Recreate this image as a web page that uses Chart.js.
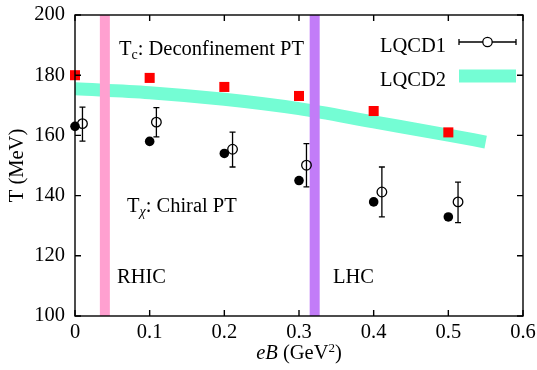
<!DOCTYPE html>
<html>
<head>
<meta charset="utf-8">
<script src="https://cdn.jsdelivr.net/npm/chart.js@4"></script>
<style>
  html, body { margin: 0; padding: 0; background: #fff; }
  #wrap { width: 537px; height: 370px; }
</style>
</head>
<body>
<div id="wrap"><canvas id="chart" width="537" height="370"></canvas></div>
<script>
// data
const eB = [0, 0.1, 0.2, 0.3, 0.4, 0.5];
const tcDeconf = [180, 179.1, 176.1, 173.1, 168.1, 161.0];   // red squares
const tChiral = [163.0, 158.0, 154.0, 145.0, 137.9, 132.9];  // filled circles

const lqcd1X = [0.010, 0.109, 0.211, 0.310, 0.411, 0.513];
const lqcd1T = [163.9, 164.4, 155.4, 150.1, 141.2, 137.9];
const lqcd1Lo = [158.1, 159.5, 149.5, 142.9, 132.9, 131.0];
const lqcd1Hi = [169.4, 169.2, 161.1, 157.3, 149.5, 144.5];

const lqcd2X = [0, 0.1, 0.2, 0.3, 0.4, 0.5, 0.55];
const lqcd2T = [175.5, 174.2, 172.0, 168.9, 164.5, 160.1, 157.8];

const rhicEB = 0.04;
const lhcEB = 0.321;

const xTicks = [0, 0.1, 0.2, 0.3, 0.4, 0.5, 0.6];
const yTicks = [100, 120, 140, 160, 180, 200];

const FONT = '"Liberation Serif", "Times New Roman", Times, serif';
const FS = 20.5;
const band = '#74fdd4';

function pts(xs, ys) { return xs.map((x, i) => ({ x: x, y: ys[i] })); }
function f(size, style) { return (style ? style + ' ' : '') + size + 'px ' + FONT; }

// error bars, inward ticks, labels and legend
const decor = {
  id: 'decor',
  beforeDatasetsDraw(chart) {
    const { ctx, scales: { x, y } } = chart;
    ctx.save();
    ctx.strokeStyle = '#000';
    ctx.lineWidth = 1.3;
    lqcd1X.forEach((v, i) => {
      const px = x.getPixelForValue(v);
      const lo = y.getPixelForValue(lqcd1Lo[i]);
      const hi = y.getPixelForValue(lqcd1Hi[i]);
      ctx.beginPath();
      ctx.moveTo(px, lo); ctx.lineTo(px, hi);
      ctx.moveTo(px - 3, lo); ctx.lineTo(px + 3, lo);
      ctx.moveTo(px - 3, hi); ctx.lineTo(px + 3, hi);
      ctx.stroke();
    });
    ctx.restore();
  },
  afterDraw(chart) {
    const { ctx, chartArea: a, scales: { x, y } } = chart;
    ctx.save();
    ctx.strokeStyle = '#000';
    ctx.lineWidth = 1.4;
    ctx.strokeRect(a.left, a.top, a.right - a.left, a.bottom - a.top);
    ctx.beginPath();
    xTicks.forEach(v => {
      const px = x.getPixelForValue(v);
      ctx.moveTo(px, a.bottom); ctx.lineTo(px, a.bottom - 6);
      ctx.moveTo(px, a.top); ctx.lineTo(px, a.top + 6);
    });
    yTicks.forEach(v => {
      const py = y.getPixelForValue(v);
      ctx.moveTo(a.left, py); ctx.lineTo(a.left + 6, py);
      ctx.moveTo(a.right, py); ctx.lineTo(a.right - 6, py);
    });
    ctx.stroke();

    ctx.fillStyle = '#000';
    ctx.textBaseline = 'alphabetic';
    ctx.textAlign = 'left';

    // T_c label
    ctx.font = f(FS);
    ctx.fillText('T', 119, 55);
    let w = ctx.measureText('T').width;
    ctx.font = f(14);
    ctx.fillText('c', 119 + w, 59);
    let w2 = ctx.measureText('c').width;
    ctx.font = f(FS);
    ctx.fillText(': Deconfinement PT', 119 + w + w2, 55);

    // T_chi label
    ctx.fillText('T', 127, 212);
    w = ctx.measureText('T').width;
    ctx.font = f(14, 'italic');
    ctx.fillText('χ', 127 + w, 216);
    w2 = ctx.measureText('χ').width;
    ctx.font = f(FS);
    ctx.fillText(': Chiral PT', 127 + w + w2, 212);

    ctx.fillText('RHIC', 117, 283);
    ctx.fillText('LHC', 333, 283);

    // legend
    ctx.textAlign = 'right';
    ctx.fillText('LQCD1', 446, 52);
    ctx.fillText('LQCD2', 446, 86);
    ctx.beginPath();
    ctx.lineWidth = 1.3;
    ctx.moveTo(459, 42); ctx.lineTo(516, 42);
    ctx.moveTo(459, 39); ctx.lineTo(459, 45);
    ctx.moveTo(516, 39); ctx.lineTo(516, 45);
    ctx.stroke();
    ctx.beginPath();
    ctx.fillStyle = '#fff';
    ctx.arc(487.5, 42, 4.7, 0, Math.PI * 2);
    ctx.fill();
    ctx.stroke();
    ctx.fillStyle = band;
    ctx.fillRect(459, 69.5, 57, 13);

    // axis titles
    ctx.fillStyle = '#000';
    ctx.save();
    ctx.translate(23, (a.top + a.bottom) / 2);
    ctx.rotate(-Math.PI / 2);
    ctx.textAlign = 'center';
    ctx.font = f(FS);
    ctx.fillText('T (MeV)', 0, 0);
    ctx.restore();

    const cx = (a.left + a.right) / 2;
    ctx.textAlign = 'left';
    ctx.font = f(FS, 'italic');
    const wa = ctx.measureText('eB').width;
    ctx.font = f(FS);
    const wb = ctx.measureText(' (GeV').width;
    ctx.font = f(13);
    const wc = ctx.measureText('2').width;
    ctx.font = f(FS);
    const wd = ctx.measureText(')').width;
    let sx = cx - (wa + wb + wc + wd) / 2;
    const by = 359;
    ctx.font = f(FS, 'italic');
    ctx.fillText('eB', sx, by); sx += wa;
    ctx.font = f(FS);
    ctx.fillText(' (GeV', sx, by); sx += wb;
    ctx.font = f(13);
    ctx.fillText('2', sx, by - 7); sx += wc;
    ctx.font = f(FS);
    ctx.fillText(')', sx, by);
    ctx.restore();
  }
};

new Chart(document.getElementById('chart'), {
  type: 'scatter',
  data: {
    datasets: [
      {
        label: 'Tc',
        data: pts(eB, tcDeconf),
        pointStyle: 'rect',
        pointRadius: 7.1,
        backgroundColor: '#ff0000',
        borderWidth: 0,
        clip: false,
        order: 0
      },
      {
        label: 'Tchi',
        data: pts(eB, tChiral),
        pointRadius: 4.8,
        backgroundColor: '#000',
        borderWidth: 0,
        clip: false,
        order: 0
      },
      {
        label: 'LQCD1',
        data: pts(lqcd1X, lqcd1T),
        pointRadius: 4.8,
        backgroundColor: 'rgba(0,0,0,0)',
        borderColor: '#000',
        borderWidth: 1.3,
        clip: false,
        order: 0
      },
      {
        label: 'RHIC',
        type: 'line',
        data: [{ x: rhicEB, y: 100 }, { x: rhicEB, y: 200 }],
        borderColor: '#ffa0d0',
        borderWidth: 10,
        borderCapStyle: 'butt',
        pointRadius: 0,
        order: 1
      },
      {
        label: 'LHC',
        type: 'line',
        data: [{ x: lhcEB, y: 100 }, { x: lhcEB, y: 200 }],
        borderColor: '#c27cf8',
        borderWidth: 10,
        borderCapStyle: 'butt',
        pointRadius: 0,
        order: 1
      },
      {
        label: 'LQCD2',
        type: 'line',
        data: pts(lqcd2X, lqcd2T),
        borderColor: band,
        borderWidth: 13,
        borderCapStyle: 'butt',
        cubicInterpolationMode: 'monotone',
        pointRadius: 0,
        order: 2
      }
    ]
  },
  options: {
    responsive: false,
    animation: false,
    layout: { padding: { top: 15, right: 14, left: 0, bottom: 0 } },
    plugins: { legend: { display: false }, tooltip: { enabled: false } },
    scales: {
      x: {
        type: 'linear',
        min: 0, max: 0.6,
        afterBuildTicks: s => { s.ticks = xTicks.map(v => ({ value: v })); },
        afterFit: s => { s.height = 54; s.paddingLeft = 0; s.paddingRight = 0; },
        grid: { display: false, drawTicks: false },
        border: { display: false },
        ticks: {
          padding: 4,
          color: '#000',
          font: { family: FONT, size: FS },
          maxRotation: 0,
          callback: v => v === 0 ? '0' : v.toFixed(1)
        }
      },
      y: {
        min: 100, max: 200,
        afterBuildTicks: s => { s.ticks = yTicks.map(v => ({ value: v })); },
        afterFit: s => { s.width = 75; s.paddingTop = 0; s.paddingBottom = 0; },
        grid: { display: false, drawTicks: false },
        border: { display: false },
        ticks: {
          padding: 10,
          color: '#000',
          font: { family: FONT, size: FS }
        }
      }
    }
  },
  plugins: [decor]
});
</script>
</body>
</html>
